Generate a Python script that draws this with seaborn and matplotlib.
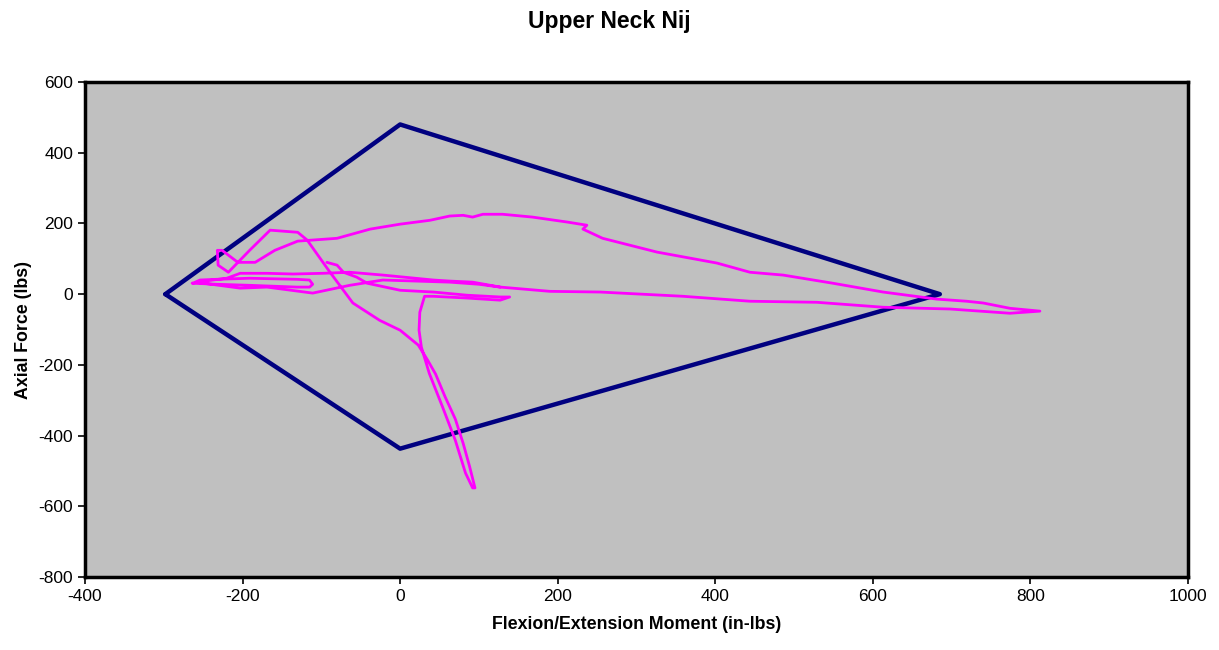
import matplotlib
matplotlib.use("Agg")
import matplotlib.pyplot as plt
import seaborn as sns
import pandas as pd

# Nij limit envelope (moment, force)
limit_moment = [-298, 0, 685, 0, -298]
limit_force = [0, 480, 0, -437, 0]

# Measured trace (moment in-lbs, axial force lbs)
trace_moment = [
    -93, -80, -72, -55, -42, 0, 42, 85, 127, 139, 127, 85, 42, 31,
    25, 24, 27, 37, 54, 70, 83, 92, 95, 88, 80, 70, 57, 45, 35, 23, 0, -26, -60,
    -89, -118, -130, -165, -191, -218, -231, -232, -226, -206, -184, -159,
    -130, -80, -38, 0, 38, 63, 80, 92, 105, 130, 168, 212, 237, 232, 257,
    326, 402, 444, 486, 549, 613, 681, 719, 740, 774, 812, 774, 698, 613,
    529, 444, 359, 254, 190, 127, 92, 63, 42, -22, -64, -98, -136, -169,
    -203, -220, -248, -264, -233, -191, -131, -115, -111, -115, -131,
    -191, -233, -254, -260, -203, -169, -111, -64, -22, 63, 100, 127,
]
trace_force = [
    90, 82, 62, 48, 31, 11, 6, -3, -8, -8, -17, -11, -6, -6,
    -51, -102, -150, -224, -320, -413, -506, -548, -548, -486, -422, -353,
    -290, -226, -187, -144, -102, -74, -25, 62, 153, 175, 181, 124, 62, 82,
    124, 124, 90, 90,
    124, 150, 158, 184, 198, 209, 221, 223, 218, 226, 226, 218, 204, 195,
    184, 158, 119, 88, 62, 54, 31, 6, -14, -20, -25, -40, -48, -54, -42,
    -37, -23, -20, -6, 6, 8, 20, 34, 37, 40, 54, 62, 59, 57, 59, 59, 45,
    37, 31, 28, 25, 20, 20, 28, 40, 42, 45, 42, 40, 34, 17, 20, 3, 25, 40,
    34, 28, 20,
]

x_ticks = [-400, -200, 0, 200, 400, 600, 800, 1000]
y_ticks = [-800, -600, -400, -200, 0, 200, 400, 600]

sns.set_style("white")
plt.rcParams["font.family"] = ["Liberation Sans", "DejaVu Sans"]
plt.rcParams["axes.unicode_minus"] = False
plt.rcParams["text.color"] = "black"
plt.rcParams["axes.labelcolor"] = "black"

fig = plt.figure(figsize=(12.19, 6.5), dpi=100)
ax = fig.add_axes([0.0697, 0.1123, 0.9049, 0.7615])
ax.set_facecolor("#C0C0C0")

env = pd.DataFrame({"m": limit_moment, "f": limit_force})
tr = pd.DataFrame({"m": trace_moment, "f": trace_force})

sns.lineplot(data=env, x="m", y="f", sort=False, estimator=None,
             color="#000080", linewidth=3.2, ax=ax)
sns.lineplot(data=tr, x="m", y="f", sort=False, estimator=None,
             color="#FF00FF", linewidth=2.0, ax=ax)

ax.set_xlim(-400, 1000)
ax.set_ylim(-800, 600)
ax.set_xticks(x_ticks)
ax.set_yticks(y_ticks)
ax.tick_params(axis="both", direction="out", length=5, width=1.2,
               labelsize=12.5, color="black", labelcolor="black",
               bottom=True, left=True)
for s in ax.spines.values():
    s.set_visible(True)
    s.set_color("black")
    s.set_linewidth(2.5)

ax.set_xlabel("Flexion/Extension Moment (in-lbs)", fontsize=12.8,
              fontweight="bold", labelpad=9, color="black")
ax.set_ylabel("Axial Force (lbs)", fontsize=12.8, fontweight="bold",
              labelpad=5, color="black")
fig.suptitle("Upper Neck Nij", fontsize=16.5, fontweight="bold",
             y=0.985, color="black")

fig.savefig("out.png", dpi=100)
